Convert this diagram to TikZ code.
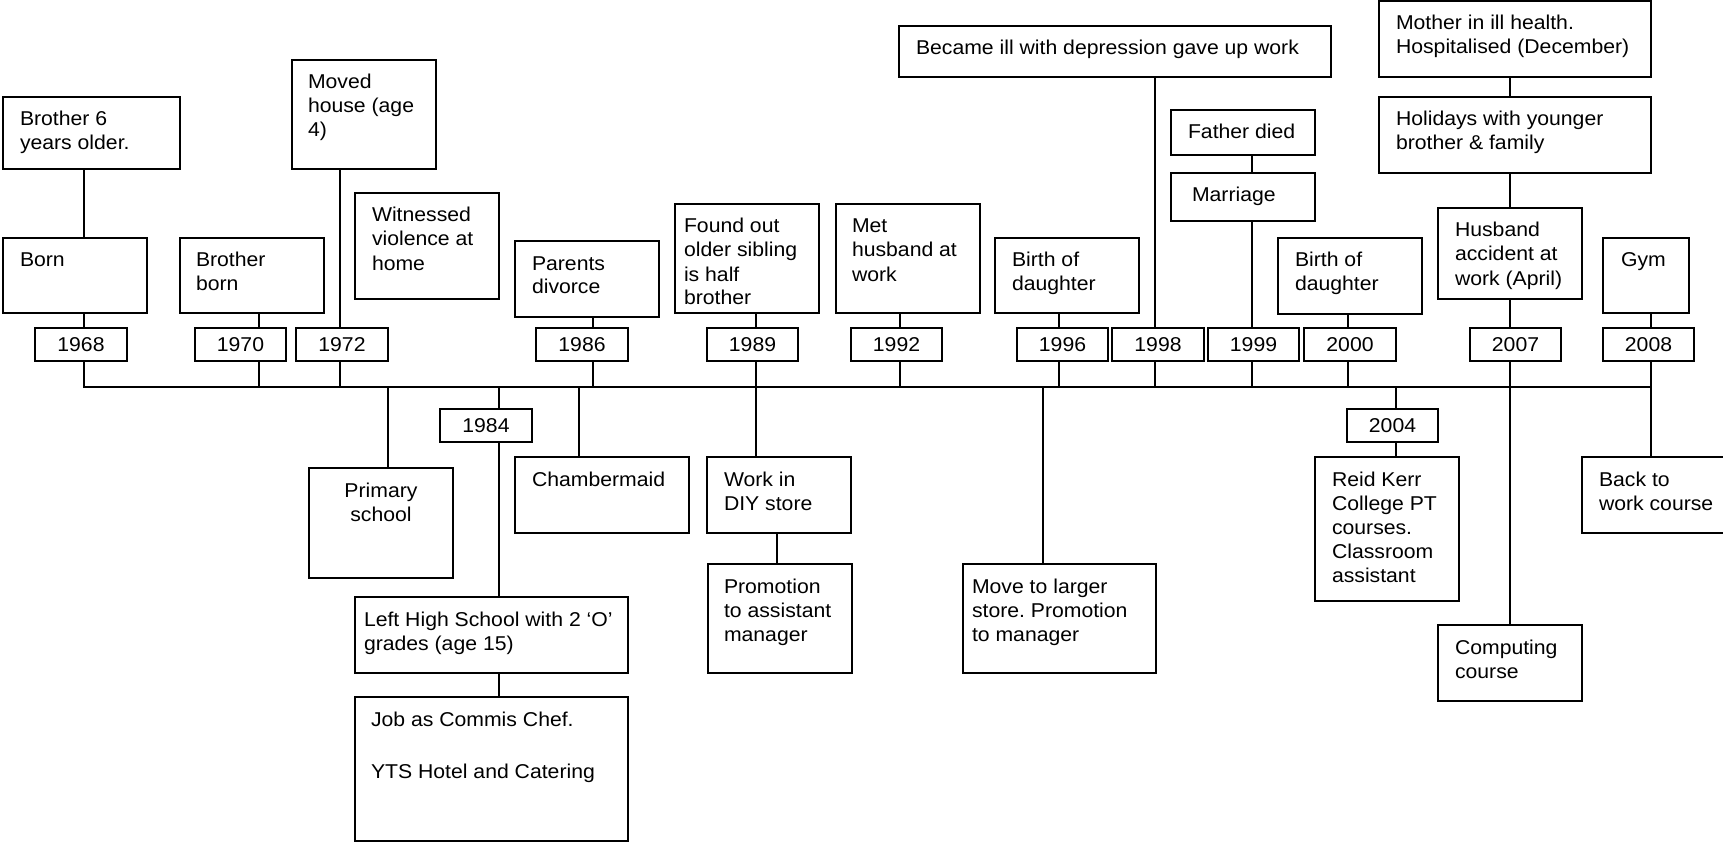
\documentclass[tikz,border=0pt]{standalone}
\usepackage{fontspec}
\setmainfont{Liberation Sans}[FakeStretch=1.06]
\frenchspacing
\begin{document}
\begin{tikzpicture}[x=1pt,y=-1pt,line width=1.6pt,
  box/.style={draw, rectangle, anchor=north west, inner sep=0pt, outer sep=0pt},
  txt/.style={anchor=north west, inner sep=0pt, outer sep=0pt, align=left,
    font=\fontsize{20}{24}\selectfont},
  ctxt/.style={txt, anchor=north, align=center},
  yr/.style={draw, rectangle, inner sep=0pt, outer sep=0pt,
    font=\fontsize{20}{24}\selectfont}]

% event box: name, left, top, right, bottom, text indent, text
\newcommand\evbox[7]{%
  \node[box, minimum width={#4-#2}, minimum height={#5-#3}] (#1) at (#2,#3) {};
  \node[txt] (#1-t) at ([shift={(#6,12.2)}]#1.north west) {\strut #7};}
% year box: name, left, top, right, bottom, year
\newcommand\yearbox[6]{%
  \node[yr, minimum width={#4-#2}, minimum height={#5-#3}] (#1)
    at ({(#2+#4)/2},{(#3+#5)/2}) {#6};}

\useasboundingbox (0,0) rectangle (1723,842);
\clip (0,0) rectangle (1723,842);

% events above the line
\evbox{bro6}{3}{97}{180}{169}{17}{Brother 6\\years older.}
\evbox{born}{3}{238}{147}{313}{17}{Born}
\evbox{brob}{180}{238}{324}{313}{16}{Brother\\born}
\evbox{moved}{292}{60}{436}{169}{16}{Moved\\house (age\\4)}
\evbox{witness}{355}{193}{499}{299}{17}{Witnessed\\violence at\\home}
\evbox{divorce}{515}{241}{659}{317}{17}{Parents\\divorce}
\evbox{found}{675}{204}{819}{313}{9}{Found out\\older sibling\\is half\\brother}
\evbox{methus}{836}{204}{980}{313}{16}{Met\\husband at\\work}
\evbox{bda}{995}{238}{1139}{313}{17}{Birth of\\daughter}
\evbox{ill}{899}{26}{1331}{77}{17}{Became ill with depression gave up work}
\evbox{father}{1171}{110}{1315}{155}{17}{Father died}
\evbox{marriage}{1171}{173}{1315}{221}{21}{Marriage}
\evbox{bdb}{1278}{238}{1422}{314}{17}{Birth of\\daughter}
\evbox{mother}{1379}{1}{1651}{77}{17}{Mother in ill health.\\Hospitalised (December)}
\evbox{holiday}{1379}{97}{1651}{173}{17}{Holidays with younger\\brother \& family}
\evbox{husband}{1438}{208}{1582}{299}{17}{Husband\\accident at\\work (April)}
\evbox{gym}{1603}{238}{1689}{313}{18}{Gym}

% events below the line
\node[box, minimum width=144, minimum height=110] (primary) at (309,468) {};
\node[ctxt] (primary-t) at ([shift={(0,12.2)}]primary.north) {\strut Primary\\school};
\evbox{chamber}{515}{457}{689}{533}{17}{Chambermaid}
\evbox{leftschool}{355}{597}{628}{673}{9}{Left High School with 2 ‘O’\\grades (age 15)}
\evbox{chef}{355}{697}{628}{841}{16}{Job as Commis Chef.\\[28pt]YTS Hotel and Catering}
\evbox{diy}{707}{457}{851}{533}{17}{Work in\\DIY store}
\evbox{promo}{708}{564}{852}{673}{16}{Promotion\\to assistant\\manager}
\evbox{move}{963}{564}{1156}{673}{9}{Move to larger\\store. Promotion\\to manager}
\evbox{college}{1315}{457}{1459}{601}{17}{Reid Kerr\\College PT\\courses.\\Classroom\\assistant}
\evbox{computing}{1438}{625}{1582}{701}{17}{Computing\\course}
\evbox{backwork}{1582}{457}{1740}{533}{17}{Back to\\work course}

% years
\yearbox{y68}{35}{328}{127}{361}{1968}
\yearbox{y70}{195}{328}{286}{361}{1970}
\yearbox{y72}{296}{328}{388}{361}{1972}
\yearbox{y84}{440}{409}{532}{442}{1984}
\yearbox{y86}{536}{328}{628}{361}{1986}
\yearbox{y89}{707}{328}{798}{361}{1989}
\yearbox{y92}{851}{328}{942}{361}{1992}
\yearbox{y96}{1017}{328}{1108}{361}{1996}
\yearbox{y98}{1112}{328}{1204}{361}{1998}
\yearbox{y99}{1208}{328}{1299}{361}{1999}
\yearbox{y00}{1304}{328}{1396}{361}{2000}
\yearbox{y04}{1347}{409}{1438}{442}{2004}
\yearbox{y07}{1470}{328}{1561}{361}{2007}
\yearbox{y08}{1603}{328}{1694}{361}{2008}

% ticks on the time line
\coordinate (t68) at (84,387);
\coordinate (t70) at (259,387);
\coordinate (t72) at (340,387);
\coordinate (tps) at (388,387);
\coordinate (t84) at (499,387);
\coordinate (tch) at (579,387);
\coordinate (t86) at (593,387);
\coordinate (t89) at (756,387);
\coordinate (t92) at (900,387);
\coordinate (tmv) at (1043,387);
\coordinate (t96) at (1059,387);
\coordinate (t98) at (1155,387);
\coordinate (t99) at (1252,387);
\coordinate (t00) at (1348,387);
\coordinate (t04) at (1396,387);
\coordinate (t07) at (1510,387);
\coordinate (t08) at (1651,387);
\coordinate (kdiy) at (777,533);

% time line
\draw[line cap=rect] (t68) -- (t08);

% connectors
\draw (bro6.south -| t68) -- (born.north -| t68);
\draw (born.south -| t68) -- (y68.north -| t68);
\draw (y68.south -| t68) -- (t68);
\draw (brob.south -| t70) -- (y70.north -| t70);
\draw (y70.south -| t70) -- (t70);
\draw (moved.south -| t72) -- (y72.north -| t72);
\draw (y72.south -| t72) -- (t72);
\draw (tps) -- (primary.north -| tps);
\draw (t84) -- (y84.north -| t84);
\draw (y84.south -| t84) -- (leftschool.north -| t84);
\draw (leftschool.south -| t84) -- (chef.north -| t84);
\draw (tch) -- (chamber.north -| tch);
\draw (divorce.south -| t86) -- (y86.north -| t86);
\draw (y86.south -| t86) -- (t86);
\draw (found.south -| t89) -- (y89.north -| t89);
\draw (y89.south -| t89) -- (diy.north -| t89);
\draw (diy.south -| kdiy) -- (promo.north -| kdiy);
\draw (methus.south -| t92) -- (y92.north -| t92);
\draw (y92.south -| t92) -- (t92);
\draw (tmv) -- (move.north -| tmv);
\draw (bda.south -| t96) -- (y96.north -| t96);
\draw (y96.south -| t96) -- (t96);
\draw (ill.south -| t98) -- (y98.north -| t98);
\draw (y98.south -| t98) -- (t98);
\draw (father.south -| t99) -- (marriage.north -| t99);
\draw (marriage.south -| t99) -- (y99.north -| t99);
\draw (y99.south -| t99) -- (t99);
\draw (bdb.south -| t00) -- (y00.north -| t00);
\draw (y00.south -| t00) -- (t00);
\draw (t04) -- (y04.north -| t04);
\draw (y04.south -| t04) -- (college.north -| t04);
\draw (mother.south -| t07) -- (holiday.north -| t07);
\draw (holiday.south -| t07) -- (husband.north -| t07);
\draw (husband.south -| t07) -- (y07.north -| t07);
\draw (y07.south -| t07) -- (computing.north -| t07);
\draw (gym.south -| t08) -- (y08.north -| t08);
\draw (y08.south -| t08) -- (backwork.north -| t08);
\end{tikzpicture}
\end{document}
